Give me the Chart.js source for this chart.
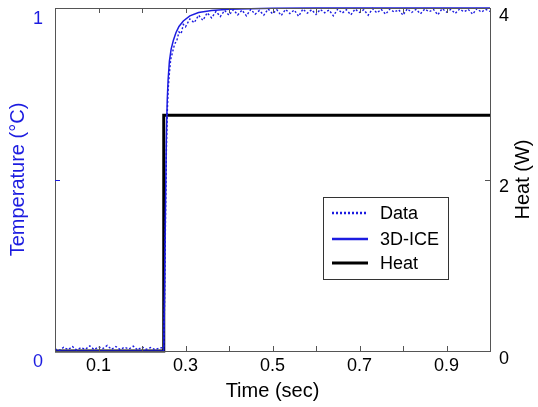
<!DOCTYPE html>
<html>
<head>
<meta charset="utf-8">
<script src="https://cdn.jsdelivr.net/npm/chart.js@4.4.1/dist/chart.umd.min.js"></script>
<style>
  html, body { margin: 0; padding: 0; background: #fff; }
  canvas { display: block; }
</style>
</head>
<body>
<canvas id="chart" width="538" height="407"></canvas>
<script>
// Measured temperature (noisy), normalised
const dataTimes = [
  0.00, 0.01, 0.02, 0.03, 0.04, 0.05, 0.06, 0.07, 0.08, 0.09,
  0.10, 0.11, 0.12, 0.13, 0.14, 0.15, 0.16, 0.17, 0.18, 0.19,
  0.20, 0.21, 0.22, 0.23, 0.24,
  0.25, 0.252, 0.254, 0.256, 0.258, 0.26, 0.263, 0.266, 0.27, 0.275,
  0.28, 0.285, 0.29, 0.295, 0.30,
  0.31, 0.32, 0.33, 0.34, 0.35, 0.36, 0.37, 0.38, 0.39, 0.40,
  0.41, 0.42, 0.43, 0.44, 0.45, 0.46, 0.47, 0.48, 0.49, 0.50,
  0.51, 0.52, 0.53, 0.54, 0.55, 0.56, 0.57, 0.58, 0.59, 0.60,
  0.61, 0.62, 0.63, 0.64, 0.65, 0.66, 0.67, 0.68, 0.69, 0.70,
  0.71, 0.72, 0.73, 0.74, 0.75, 0.76, 0.77, 0.78, 0.79, 0.80,
  0.81, 0.82, 0.83, 0.84, 0.85, 0.86, 0.87, 0.88, 0.89, 0.90,
  0.91, 0.92, 0.93, 0.94, 0.95, 0.96, 0.97, 0.98, 0.99, 1.00
];
const dataTemps = [
  0.006, 0.002, 0.011, 0.004, 0.013, 0.003, 0.010, 0.005, 0.015, 0.004,
  0.012, 0.007, 0.016, 0.005, 0.013, 0.004, 0.011, 0.006, 0.014, 0.003,
  0.012, 0.005, 0.010, 0.004, 0.009,
  0.010, 0.150, 0.380, 0.580, 0.690, 0.760, 0.810, 0.850, 0.870, 0.895,
  0.905, 0.930, 0.925, 0.952, 0.945,
  0.968, 0.957, 0.979, 0.964, 0.986, 0.971, 0.990, 0.975, 0.993, 0.979,
  0.995, 0.980, 0.994, 0.977, 0.996, 0.982, 0.993, 0.979, 0.997, 0.983,
  0.995, 0.978, 0.996, 0.984, 0.994, 0.976, 0.997, 0.985, 0.995, 0.981,
  0.996, 0.986, 0.994, 0.977, 0.997, 0.985, 0.995, 0.980, 0.997, 0.987,
  0.995, 0.979, 0.998, 0.986, 0.996, 0.982, 0.997, 0.988, 0.995, 0.979,
  0.998, 0.987, 0.996, 0.983, 0.997, 0.989, 0.996, 0.980, 0.998, 0.988,
  0.996, 0.984, 0.997, 0.989, 0.996, 0.982, 0.998, 0.988, 0.996, 0.990
];

// 3D-ICE simulated temperature
const modelTimes = [0, 0.25, 0.252, 0.254, 0.256, 0.258, 0.26, 0.263, 0.267, 0.272,
  0.278, 0.285, 0.295, 0.31, 0.33, 0.36, 0.40, 0.45, 0.50, 0.60, 0.80, 1.00];
const modelTemps = [0, 0, 0.20, 0.42, 0.62, 0.73, 0.79, 0.845, 0.88, 0.905,
  0.928, 0.946, 0.962, 0.977, 0.987, 0.993, 0.996, 0.998, 0.999, 1.0, 1.0, 1.0];

// Heat input (W)
const heatTimes = [0, 0.25, 0.25, 1.0];
const heatValues = [0, 0, 2.75, 2.75];

// Axis ticks
const xTicks = [0.1, 0.2, 0.3, 0.4, 0.5, 0.6, 0.7, 0.8, 0.9];
const xLabels = ['0.1', '0.3', '0.5', '0.7', '0.9'];
const tempLabels = ['0', '1'];
const heatLabels = ['0', '2', '4'];

const BLUE = '#1c1ce0';
const FONT = '"Liberation Sans", Arial, sans-serif';

function toPoints(xs, ys) {
  return xs.map((x, i) => ({ x: x, y: ys[i] }));
}

// frame + inward tick marks, matlab style
const framePlugin = {
  id: 'frame',
  afterDraw(chart) {
    const ctx = chart.ctx;
    const a = chart.chartArea;
    const xs = chart.scales.x, yl = chart.scales.y, yr = chart.scales.y1;
    ctx.save();
    ctx.lineWidth = 1;
    ctx.strokeStyle = '#555';
    ctx.strokeRect(a.left + 0.5, a.top + 0.5, a.right - a.left, a.bottom - a.top);
    ctx.beginPath();
    xTicks.forEach(t => {
      const px = Math.round(xs.getPixelForValue(t)) + 0.5;
      ctx.moveTo(px, a.bottom); ctx.lineTo(px, a.bottom - 5);
      ctx.moveTo(px, a.top); ctx.lineTo(px, a.top + 5);
    });
    const pr = Math.round(yr.getPixelForValue(2)) + 0.5;
    ctx.moveTo(a.right, pr); ctx.lineTo(a.right - 5, pr);
    ctx.stroke();
    ctx.strokeStyle = BLUE;
    ctx.beginPath();
    const pl = Math.round(yl.getPixelForValue(0.5)) + 0.5;
    ctx.moveTo(a.left, pl); ctx.lineTo(a.left + 5, pl);
    ctx.stroke();

    // right axis title reads bottom-to-top like the left one
    ctx.translate(523, (a.top + a.bottom) / 2);
    ctx.rotate(-Math.PI / 2);
    ctx.font = '20px ' + FONT;
    ctx.fillStyle = '#000';
    ctx.textAlign = 'center';
    ctx.textBaseline = 'middle';
    ctx.fillText('Heat (W)', 0, 0);
    ctx.restore();
  }
};

// boxed legend inside the plot
const legendPlugin = {
  id: 'boxLegend',
  afterDraw(chart) {
    const ctx = chart.ctx;
    const bx = 323, by = 197, bw = 125, bh = 82;
    ctx.save();
    ctx.fillStyle = '#fff';
    ctx.fillRect(bx, by, bw, bh);
    ctx.strokeStyle = '#333';
    ctx.lineWidth = 1;
    ctx.strokeRect(bx + 0.5, by + 0.5, bw, bh);
    const rows = [213, 239, 263];
    ctx.font = '18px ' + FONT;
    ctx.textBaseline = 'middle';
    chart.data.datasets.forEach((ds, i) => {
      const y = rows[i];
      ctx.strokeStyle = ds.borderColor;
      ctx.lineWidth = ds.legendWidth;
      ctx.setLineDash(ds.borderDash || []);
      ctx.beginPath();
      ctx.moveTo(332, y); ctx.lineTo(368, y);
      ctx.stroke();
      ctx.setLineDash([]);
      ctx.fillStyle = '#000';
      ctx.fillText(ds.label, 380, y + 1);
    });
    ctx.restore();
  }
};

new Chart(document.getElementById('chart'), {
  type: 'line',
  data: {
    datasets: [
      {
        label: 'Data',
        data: toPoints(dataTimes, dataTemps),
        yAxisID: 'y',
        borderColor: BLUE,
        borderWidth: 1.4,
        borderDash: [2, 2],
        legendWidth: 2.5,
        pointRadius: 0,
        tension: 0,
        clip: 4
      },
      {
        label: '3D-ICE',
        data: toPoints(modelTimes, modelTemps),
        yAxisID: 'y',
        borderColor: BLUE,
        borderWidth: 1.5,
        legendWidth: 2.5,
        pointRadius: 0,
        tension: 0,
        clip: 4
      },
      {
        label: 'Heat',
        data: toPoints(heatTimes, heatValues),
        yAxisID: 'y1',
        borderColor: '#000',
        borderWidth: 3,
        legendWidth: 3,
        pointRadius: 0,
        tension: 0,
        clip: 4
      }
    ]
  },
  options: {
    responsive: false,
    animation: false,
    devicePixelRatio: 1,
    layout: { padding: { top: 8, left: 0, right: 0, bottom: 0 } },
    plugins: {
      legend: { display: false },
      tooltip: { enabled: false }
    },
    scales: {
      x: {
        type: 'linear',
        min: 0,
        max: 1,
        grid: { display: false, drawTicks: false },
        border: { display: false },
        afterBuildTicks(scale) {
          scale.ticks = xTicks.map(v => ({ value: v }));
        },
        afterFit(scale) {
          scale.height = 56;
          scale.paddingLeft = 0;
          scale.paddingRight = 0;
        },
        ticks: {
          autoSkip: false,
          maxRotation: 0,
          padding: 4,
          color: '#000',
          font: { family: FONT, size: 18 },
          callback: (v, i) => (i % 2 === 0 ? xLabels[i / 2] : '')
        },
        title: {
          display: true,
          text: 'Time (sec)',
          color: '#000',
          font: { family: FONT, size: 20 },
          padding: { top: 0, bottom: 4 }
        }
      },
      y: {
        type: 'linear',
        position: 'left',
        min: 0,
        max: 1,
        grid: { display: false, drawTicks: false },
        border: { display: false },
        afterBuildTicks(scale) {
          scale.ticks = [{ value: 0 }, { value: 1 }];
        },
        afterFit(scale) {
          scale.width = 55;
          scale.paddingTop = 0;
          scale.paddingBottom = 0;
        },
        ticks: {
          padding: 12,
          labelOffset: 11,
          color: BLUE,
          font: { family: FONT, size: 18 },
          callback: (v, i) => tempLabels[i]
        },
        title: {
          display: true,
          text: 'Temperature (°C)',
          color: BLUE,
          font: { family: FONT, size: 20 },
          padding: { top: 6, bottom: 0 }
        }
      },
      y1: {
        type: 'linear',
        position: 'right',
        min: 0,
        max: 4,
        grid: { display: false, drawTicks: false },
        border: { display: false },
        afterBuildTicks(scale) {
          scale.ticks = [{ value: 0 }, { value: 2 }, { value: 4 }];
        },
        afterFit(scale) {
          scale.width = 48;
          scale.paddingTop = 0;
          scale.paddingBottom = 0;
        },
        ticks: {
          padding: 9,
          labelOffset: 8,
          color: '#000',
          font: { family: FONT, size: 18 },
          callback: (v, i) => heatLabels[i]
        },
        title: { display: false }
      }
    }
  },
  plugins: [framePlugin, legendPlugin]
});
</script>
</body>
</html>
